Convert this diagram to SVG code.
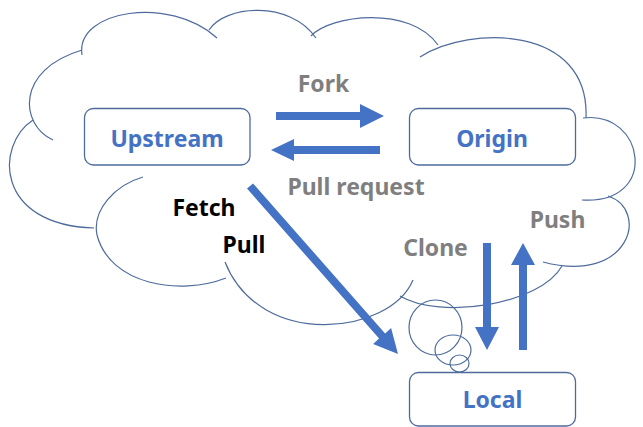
<svg xmlns="http://www.w3.org/2000/svg" width="643" height="427" viewBox="0 0 643 427">
<style>
.cl{fill:none;stroke:#4E6B9C;stroke-width:1.2}
.box{fill:#fff;stroke:#4E6B9C;stroke-width:1.3}
.lbl{font-family:"Noto Sans","Open Sans",sans-serif;font-weight:700;font-size:23px;text-anchor:middle}
.node{fill:#4472C4}
.gray{fill:#7F7F7F}
.blk{fill:#000}
.arr{fill:#4472C4}
</style>
<rect width="643" height="427" fill="#fff"/>
<g id="cloud">
<path class="cl" d="M53,140 C20,125 15,70 82,50"/>
<path class="cl" d="M82,55 C75,10 170,-5 217,38"/>
<path class="cl" d="M209,30 C225,5 290,0 316,38"/>
<path class="cl" d="M311,36 C330,15 410,5 438,45"/>
<path class="cl" d="M420,57 C470,25 590,25 586,118"/>
<path class="cl" d="M583,118 C645,110 660,205 582,200"/>
<path class="cl" d="M608,196 C650,210 630,285 543,262"/>
<path class="cl" d="M562,266 C540,305 440,320 400,296"/>
<path class="cl" d="M413,280 C390,335 260,350 225,262"/>
<path class="cl" d="M226,278 C180,296 110,285 97,235 C92,210 115,185 143,177"/>
<path class="cl" d="M33,120 C-5,145 -5,225 94,228"/>
<ellipse class="cl" cx="435.5" cy="327.5" rx="26.5" ry="27.5"/>
<ellipse class="cl" cx="453" cy="350" rx="18" ry="15"/>
<ellipse class="cl" cx="459.5" cy="363.5" rx="9.5" ry="8.5"/>
</g>
<g id="connectors">
<g id="fork">
<polygon class="arr" points="276,112 360,112 360,104 384,116 360,128 360,120 276,120"/>
<text class="lbl gray" x="323.5" y="92">Fork</text>
</g>
<g id="pullrequest">
<polygon class="arr" points="380,146 294,146 294,139 271,150 294,161 294,154 380,154"/>
<text class="lbl gray" x="356" y="195">Pull request</text>
</g>
<g id="fetchpull">
<polygon class="arr" points="253,183.4 385.1,333.4 391.1,328.1 398,354 373.1,343.9 379.1,338.6 247,188.6"/>
<text class="lbl blk" x="204" y="216">Fetch</text>
<text class="lbl blk" x="244" y="253">Pull</text>
</g>
<g id="clone">
<polygon class="arr" points="483,243 491,243 491,327 499,327 487,350 475,327 483,327"/>
<text class="lbl gray" x="435.5" y="256">Clone</text>
</g>
<g id="push">
<polygon class="arr" points="519,350 527,350 527,265 535,265 523,243 511,265 519,265"/>
<text class="lbl gray" x="557.5" y="228">Push</text>
</g>
</g>
<g id="upstream">
<rect class="box" x="84.5" y="108.5" width="165.5" height="56.5" rx="9"/>
<text class="lbl node" x="167" y="147">Upstream</text>
</g>
<g id="origin">
<rect class="box" x="409.5" y="108.5" width="166" height="56.5" rx="9"/>
<text class="lbl node" x="492" y="147">Origin</text>
</g>
<g id="local">
<rect class="box" x="409.5" y="372.5" width="166" height="53.5" rx="9"/>
<text class="lbl node" x="492.5" y="408">Local</text>
</g>
</svg>
